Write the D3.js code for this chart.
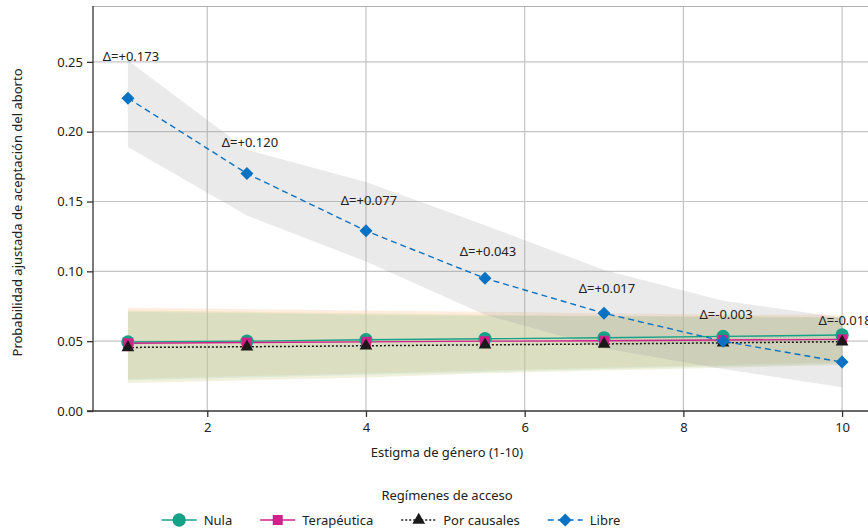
<!DOCTYPE html>
<html>
<head>
<meta charset="utf-8">
<script src="https://cdn.jsdelivr.net/npm/d3@7"></script>
<style>
  html, body { margin: 0; padding: 0; background: #fff; }
  svg { display: block; font-family: 'Noto Sans', sans-serif; }
</style>
</head>
<body>
<div id="chart"></div>
<script>
// ---- data ----
const estigma = [1, 2.5, 4, 5.5, 7, 8.5, 10];
const xTicks = [2, 4, 6, 8, 10];
const yTicks = [0, 0.05, 0.10, 0.15, 0.20, 0.25];

const nula = [0.0494, 0.0500, 0.0510, 0.0517, 0.0524, 0.0534, 0.0544];
const nulaLo = [0.022, 0.024, 0.026, 0.028, 0.030, 0.032, 0.034];
const nulaHi = [0.071, 0.070, 0.069, 0.068, 0.068, 0.067, 0.067];

const terapeutica = [0.0485, 0.0490, 0.0495, 0.0500, 0.0503, 0.0508, 0.0513];
const terapeuticaLo = [0.023, 0.025, 0.027, 0.029, 0.031, 0.033, 0.035];
const terapeuticaHi = [0.074, 0.073, 0.072, 0.071, 0.070, 0.069, 0.069];

const causales = [0.0455, 0.0460, 0.0467, 0.0474, 0.0480, 0.0488, 0.0496];
const causalesLo = [0.020, 0.022, 0.024, 0.027, 0.029, 0.031, 0.033];
const causalesHi = [0.072, 0.071, 0.070, 0.069, 0.068, 0.068, 0.067];

const libre = [0.224, 0.170, 0.129, 0.095, 0.070, 0.050, 0.035];
const libreLo = [0.189, 0.140, 0.107, 0.069, 0.045, 0.030, 0.017];
const libreHi = [0.251, 0.187, 0.164, 0.133, 0.101, 0.079, 0.067];

const deltaLabels = ['Δ=+0.173', 'Δ=+0.120', 'Δ=+0.077', 'Δ=+0.043', 'Δ=+0.017', 'Δ=-0.003', 'Δ=-0.018'];
const deltaAnchor = [0.2536, 0.192, 0.151, 0.114, 0.088, 0.069, 0.0645];

const SERIES = [
  { key: 'nula', label: 'Nula', color: '#17a287', vals: nula, lo: nulaLo, hi: nulaHi,
    band: 'rgba(110,190,160,0.16)', dash: null, marker: 'circle' },
  { key: 'ter', label: 'Terapéutica', color: '#d1218b', vals: terapeutica, lo: terapeuticaLo, hi: terapeuticaHi,
    band: 'rgba(253,200,150,0.30)', dash: null, marker: 'square' },
  { key: 'cau', label: 'Por causales', color: '#1a1a1a', vals: causales, lo: causalesLo, hi: causalesHi,
    band: 'rgba(205,205,135,0.28)', dash: '2,2', marker: 'triangle' },
  { key: 'lib', label: 'Libre', color: '#0a72c2', vals: libre, lo: libreLo, hi: libreHi,
    band: 'rgba(150,150,150,0.2)', dash: '6,4', marker: 'diamond' },
];

const W = 868, H = 532;
const m = { top: 6, left: 93, bottom: 121, right: -9 };
const svg = d3.select('#chart').append('svg').attr('width', W).attr('height', H);

const x = d3.scaleLinear().domain([0.56, 10.44]).range([m.left, W - m.right]);
const y = d3.scaleLinear().domain([0, 0.29]).range([H - m.bottom, m.top]);
const x0 = m.left, x1 = W - m.right, yB = H - m.bottom, yT = m.top;

// grid
const grid = svg.append('g');
grid.selectAll('.gx').data(xTicks).enter().append('line')
  .attr('x1', d => x(d)).attr('x2', d => x(d)).attr('y1', yT).attr('y2', yB)
  .attr('stroke', '#c4c4c4').attr('stroke-width', 1.2);
grid.selectAll('.gy').data(yTicks.slice(1)).enter().append('line')
  .attr('x1', x0).attr('x2', x1).attr('y1', d => y(d)).attr('y2', d => y(d))
  .attr('stroke', '#c4c4c4').attr('stroke-width', 1.2);
svg.append('line').attr('x1', x0).attr('x2', x1).attr('y1', yT + 0.5).attr('y2', yT + 0.5)
  .attr('stroke', '#b0b0b0').attr('stroke-width', 1.2);

// CI bands
const area = d3.area()
  .x(d => x(d.x)).y0(d => y(d.lo)).y1(d => y(d.hi));
[SERIES[1], SERIES[2], SERIES[0], SERIES[3]].forEach(s => {
  const pts = estigma.map((e, i) => ({ x: e, lo: s.lo[i], hi: s.hi[i] }));
  svg.append('path').datum(pts).attr('d', area).attr('fill', s.band);
});

// axes
const yAxis = svg.append('g').attr('transform', `translate(${x0},0)`)
  .call(d3.axisLeft(y).tickValues(yTicks).tickFormat(d3.format('.2f')).tickSize(6).tickPadding(4));
const xAxis = svg.append('g').attr('transform', `translate(0,${yB})`)
  .call(d3.axisBottom(x).tickValues(xTicks).tickSize(6).tickPadding(6));
[xAxis, yAxis].forEach(a => {
  a.select('.domain').attr('stroke', '#333').attr('stroke-width', 1.3);
  a.selectAll('.tick line').attr('stroke', '#333').attr('stroke-width', 1.3);
  a.selectAll('.tick text').attr('fill', '#222').style('font-size', '13px').style('font-family', "'Noto Sans', sans-serif");
});
yAxis.select('.domain').attr('d', `M-6,${y(0)}H0V${yT}`);
xAxis.select('.domain').attr('d', `M${x0},0H${x1}`);

// lines
const line = d3.line().x(d => x(d.x)).y(d => y(d.v));
SERIES.forEach(s => {
  const pts = estigma.map((e, i) => ({ x: e, v: s.vals[i] }));
  svg.append('path').datum(pts).attr('d', line)
    .attr('fill', 'none').attr('stroke', s.color)
    .attr('stroke-width', s.key === 'cau' ? 1.5 : 1.4)
    .attr('stroke-dasharray', s.dash);
});

// markers
const sym = {
  circle: () => d3.symbol().type(d3.symbolCircle).size(140)(),
  square: () => d3.symbol().type(d3.symbolSquare).size(100)(),
  triangle: () => d3.symbol().type(d3.symbolTriangle).size(70)(),
  diamond: () => 'M0,-6.5L6.5,0L0,6.5L-6.5,0Z',
};
function drawMarker(g, s, cx, cy) {
  g.append('path').attr('d', sym[s.marker]())
    .attr('transform', `translate(${cx},${cy})`)
    .attr('fill', s.color);
}
SERIES.forEach(s => {
  const g = svg.append('g');
  estigma.forEach((e, i) => drawMarker(g, s, x(e), y(s.vals[i])));
});

// delta labels
svg.append('g').selectAll('text').data(deltaLabels).enter().append('text')
  .attr('x', (d, i) => x(estigma[i]) + 3)
  .attr('y', (d, i) => y(deltaAnchor[i]))
  .attr('dy', '0.35em')
  .attr('text-anchor', 'middle')
  .attr('fill', '#222')
  .style('font-size', '13px')
  .text(d => d);

// axis titles
svg.append('text')
  .attr('transform', `translate(17,${(yT + yB) / 2 + 4}) rotate(-90)`)
  .attr('text-anchor', 'middle').attr('dy', '0.35em')
  .attr('fill', '#222').style('font-size', '13px')
  .text('Probabilidad ajustada de aceptación del aborto');
svg.append('text')
  .attr('x', 447).attr('y', 457)
  .attr('text-anchor', 'middle')
  .attr('fill', '#222').style('font-size', '13px')
  .text('Estigma de género (1-10)');

// legend
svg.append('text')
  .attr('x', 447).attr('y', 500)
  .attr('text-anchor', 'middle')
  .attr('fill', '#222').style('font-size', '13px')
  .text('Regímenes de acceso');
const legend = svg.append('g');
const items = SERIES.map(s => {
  const g = legend.append('g');
  g.append('line').attr('x1', 0).attr('x2', 35).attr('y1', 0).attr('y2', 0)
    .attr('stroke', s.color).attr('stroke-width', 1.4).attr('stroke-dasharray', s.dash);
  drawMarker(g, s, 17.5, 0);
  const t = g.append('text').attr('x', 42).attr('y', 0).attr('dy', '0.35em')
    .attr('fill', '#222').style('font-size', '13px').text(s.label);
  return { g, w: 42 + t.node().getComputedTextLength() };
});
const gap = 28;
const total = d3.sum(items, d => d.w) + gap * (items.length - 1);
let cx = 391 - total / 2;
items.forEach(it => {
  it.g.attr('transform', `translate(${cx},520)`);
  cx += it.w + gap;
});
</script>
</body>
</html>
